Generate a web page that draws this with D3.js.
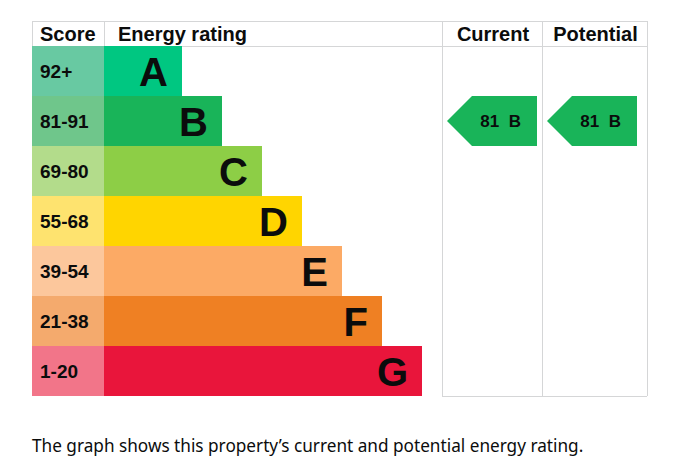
<!DOCTYPE html>
<html>
<head>
<meta charset="utf-8">
<script src="https://cdn.jsdelivr.net/npm/d3@7"></script>
<style>
  body { margin: 0; background: #fff; }
  svg { display: block; }
</style>
</head>
<body>
<svg id="chart" width="679" height="462"></svg>
<script>
// ratings, score bands and bar lengths
const ratings = ["A", "B", "C", "D", "E", "F", "G"];
const scoreBands = ["92+", "81-91", "69-80", "55-68", "39-54", "21-38", "1-20"];
const barLengths = [78, 118, 158, 198, 238, 278, 318];
const barColors = ["#00c781", "#19b459", "#8dce46", "#ffd500", "#fcaa65", "#ef8023", "#e9153b"];
const scoreColors = ["#68c9a2", "#6fc68b", "#b3dc8b", "#fee36f", "#fcc79c", "#f4aa6d", "#f27589"];

const columns = ["Current", "Potential"];
const currentScore = 81, currentRating = "B";
const potentialScore = 81, potentialRating = "B";

const svg = d3.select("#chart");
const font = "'Liberation Sans', Arial, sans-serif";
const gridColor = "#d5d6d7";

const mLeft = 32, mTop = 21, headerH = 25, mBottom = 396, mRight = 647;
const scoreW = 72;
const colX = [442, 542, mRight];

let y = d3.scaleBand(ratings, [mTop + headerH, mBottom]).padding(0);
let x = d3.scaleLinear([0, d3.max(barLengths)], [mLeft + scoreW, mLeft + scoreW + d3.max(barLengths)]);

let rows = ratings.map((r, i) => ({ r, band: scoreBands[i], len: barLengths[i], c: barColors[i], sc: scoreColors[i] }));

// grid lines
const grid = svg.append("g").attr("stroke", gridColor).attr("stroke-width", 1);
grid.append("line").attr("x1", mLeft).attr("x2", mRight).attr("y1", mTop + 0.5).attr("y2", mTop + 0.5);
grid.append("line").attr("x1", mLeft).attr("x2", mRight).attr("y1", mTop + headerH + 0.5).attr("y2", mTop + headerH + 0.5);
grid.append("line").attr("x1", colX[0]).attr("x2", mRight).attr("y1", mBottom + 0.5).attr("y2", mBottom + 0.5);
[mLeft, mLeft + scoreW, colX[0], colX[1], mRight].forEach(cx => {
  grid.append("line").attr("x1", cx + 0.5).attr("x2", cx + 0.5)
    .attr("y1", mTop).attr("y2", cx >= colX[0] ? mBottom : mTop + headerH);
});

// headers
const head = svg.append("g").attr("font-family", font).attr("font-weight", "bold")
  .attr("font-size", 20).attr("fill", "#0b0c0c");
head.append("text").attr("x", 40).attr("y", 41).text("Score");
head.append("text").attr("x", 118).attr("y", 41).text("Energy rating");
columns.forEach((c, i) => {
  head.append("text").attr("x", (colX[i] + colX[i + 1]) / 2 + 1).attr("y", 41)
    .attr("text-anchor", "middle").text(c);
});

// score cells
svg.append("g").selectAll("rect").data(rows).join("rect")
  .attr("x", mLeft).attr("y", d => y(d.r)).attr("width", scoreW).attr("height", y.bandwidth())
  .attr("fill", d => d.sc);
svg.append("g").selectAll("text").data(rows).join("text")
  .attr("x", 40).attr("y", d => y(d.r) + y.bandwidth() / 2 + 6.5)
  .attr("font-family", font).attr("font-weight", "bold").attr("font-size", 19)
  .attr("fill", "#0b0c0c").text(d => d.band);

// bars
svg.append("g").selectAll("rect").data(rows).join("rect")
  .attr("x", x(0)).attr("y", d => y(d.r)).attr("width", d => x(d.len) - x(0)).attr("height", y.bandwidth())
  .attr("fill", d => d.c);
svg.append("g").selectAll("text").data(rows).join("text")
  .attr("x", d => x(d.len) - 14).attr("y", d => y(d.r) + y.bandwidth() / 2 + 14.5)
  .attr("text-anchor", "end")
  .attr("font-family", font).attr("font-weight", "bold").attr("font-size", 40)
  .attr("fill", "#0b0c0c").text(d => d.r);

// current / potential arrows
const markers = [
  { score: currentScore, rating: currentRating },
  { score: potentialScore, rating: potentialRating }
];
const arrowW = 90, tip = 25;
markers.forEach((m, i) => {
  const i0 = ratings.indexOf(m.rating);
  const x0 = colX[i] + 5, x1 = x0 + arrowW;
  const y0 = y(m.rating), h = y.bandwidth();
  const path = d3.path();
  path.moveTo(x0, y0 + h / 2);
  path.lineTo(x0 + tip, y0);
  path.lineTo(x1, y0);
  path.lineTo(x1, y0 + h);
  path.lineTo(x0 + tip, y0 + h);
  path.closePath();
  svg.append("path").attr("d", path.toString()).attr("fill", barColors[i0]);
  svg.append("text").attr("x", x1 - 16).attr("y", y0 + h / 2 + 6)
    .attr("text-anchor", "end").attr("font-family", font).attr("font-weight", "bold")
    .attr("font-size", 17).attr("fill", "#0b0c0c").attr("xml:space", "preserve")
    .text(m.score + "  " + m.rating);
});

// caption
svg.append("text").attr("x", 32).attr("y", 452)
  .attr("font-family", "'Noto Sans', sans-serif").attr("font-size", 17.2).attr("fill", "#0b0c0c")
  .text("The graph shows this property\u2019s current and potential energy rating.");
</script>
</body>
</html>
